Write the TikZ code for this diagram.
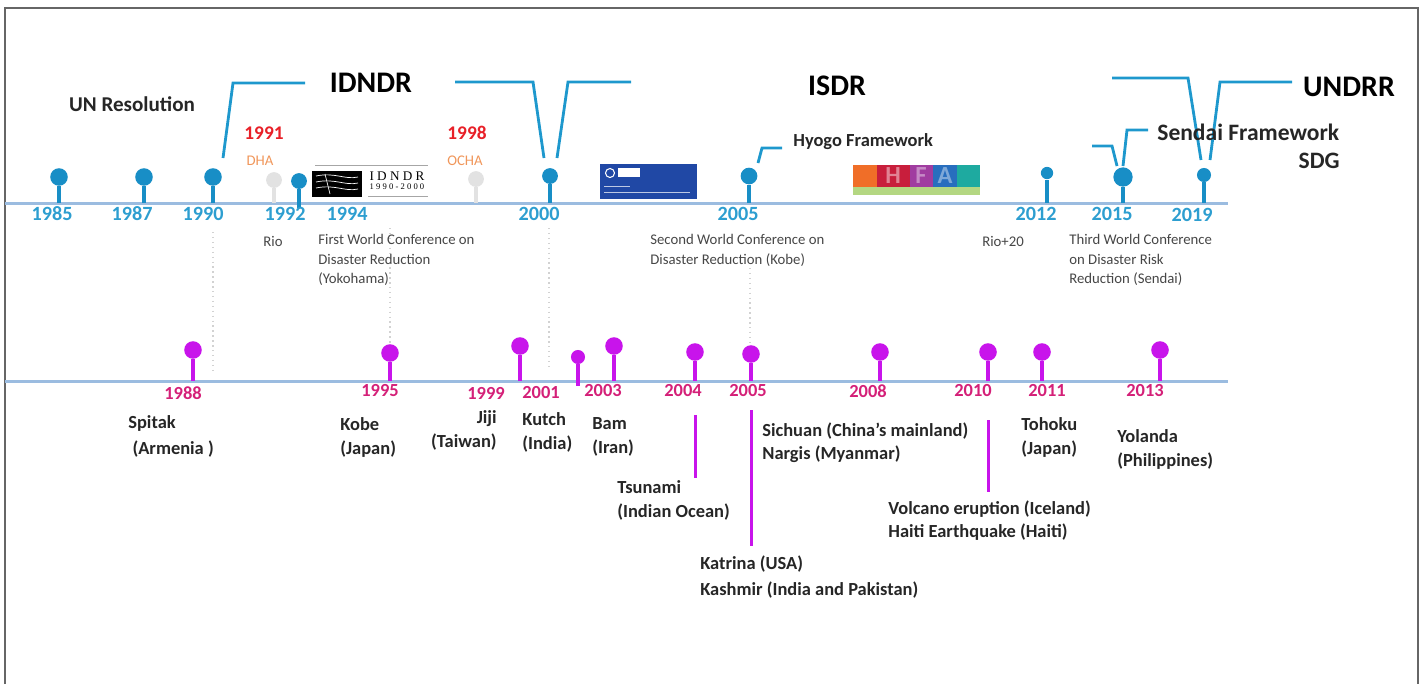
\documentclass[tikz,border=0pt]{standalone}
\usepackage{fontspec}
\setmainfont{Carlito}
\newfontfamily\logofont{Liberation Serif}
\usetikzlibrary{positioning}
\definecolor{pinblue}{RGB}{24,142,198}
\definecolor{yrblue}{RGB}{45,158,208}
\definecolor{axisblue}{RGB}{155,188,224}
\definecolor{brblue}{RGB}{30,152,205}
\definecolor{pinmag}{RGB}{200,20,235}
\definecolor{yrmag}{RGB}{212,32,120}
\definecolor{yrred}{RGB}{232,32,40}
\definecolor{orgtxt}{RGB}{240,150,90}
\definecolor{pingrey}{RGB}{226,226,226}
\definecolor{txtgrey}{RGB}{70,70,70}
\definecolor{isdrblue}{RGB}{32,72,165}
\definecolor{hfaorange}{RGB}{240,110,40}
\definecolor{hfared}{RGB}{200,30,60}
\definecolor{hfapurple}{RGB}{160,60,160}
\definecolor{hfablue}{RGB}{40,110,190}
\definecolor{hfateal}{RGB}{30,170,160}
\definecolor{hfagreen}{RGB}{180,215,130}
\tikzset{
  upin/.style={circle, fill=pinblue, inner sep=0pt, minimum size=10pt},
  lpin/.style={circle, fill=pinmag, inner sep=0pt, minimum size=10pt},
  gpin/.style={circle, fill=pingrey, inner sep=0pt, minimum size=9pt},
  ustem/.style={pinblue, line width=2.2pt},
  lstem/.style={pinmag, line width=2.2pt},
  gstem/.style={pingrey, line width=2pt},
  axisline/.style={axisblue, line width=1.7pt},
  period/.style={brblue, line width=1.6pt},
  uyear/.style={text=yrblue, font=\bfseries\fontsize{11.5}{12}\selectfont, inner sep=0pt},
  lyear/.style={text=yrmag, font=\bfseries\fontsize{10.5}{12}\selectfont, inner sep=0pt},
  era/.style={font=\bfseries\fontsize{17}{20}\selectfont, inner sep=0pt},
  frame/.style={text=black!85, font=\bfseries\fontsize{13.4}{15}\selectfont, inner sep=0pt},
  conf/.style={text=txtgrey, font=\fontsize{8.4}{11.1}\selectfont, inner sep=0pt, align=left, anchor=north west},
  evt/.style={text=black!85, font=\bfseries\fontsize{10.5}{13.6}\selectfont, inner sep=0pt, align=left, anchor=north west},
  guide/.style={gray!35, line width=0.8pt, dotted},
  mline/.style={pinmag, line width=1.7pt},
}

\begin{document}
\begin{tikzpicture}[x=0.02cm, y=-0.02cm]
\useasboundingbox (0,0) rectangle (1425,684);
% frame
\draw[gray!80!black, line width=1.1pt] (5,684) -- (5,8) -- (1418,8) -- (1418,684);

% guides
\draw[guide] (213,232) -- (213,370);
\draw[guide] (390,228) -- (390,345);
\draw[guide] (549,228) -- (549,370);
\draw[guide] (750,268) -- (750,345);

% axes
\draw[axisline] (5,203) -- (1228,203);
\draw[axisline] (5,381) -- (1228,381);

% periods
\draw[period] (223,158) -- (233,83) -- (305,83);
\draw[period] (455,82) -- (533,82) -- (544,158);
\draw[period] (557,158) -- (568,82) -- (631,82);
\draw[period] (758,163) -- (762,148) -- (782,148);
\draw[period] (1092,146) -- (1112,146) -- (1117,166);
\draw[period] (1123,166) -- (1127,130) -- (1148,130);
\draw[period] (1112,78) -- (1188,78) -- (1201,160);
\draw[period] (1210,160) -- (1220,82) -- (1292,82);

% logos
\fill[black] (312,171) rectangle (362,197);
\draw[white, line width=0.4pt] (316,176) .. controls (335,172) and (345,180) .. (358,177);
\draw[white, line width=0.4pt] (316,182) .. controls (335,178) and (345,186) .. (358,183);
\draw[white, line width=0.4pt] (316,188) .. controls (335,184) and (345,192) .. (358,189);
\draw[white, line width=0.4pt] (325,174) -- (330,194);
\draw[gray!70, line width=0.5pt] (315,165) -- (428,165);
\draw[gray!70, line width=0.5pt] (368,196) -- (428,196);
\node[inner sep=0pt, font=\logofont\fontsize{7.5}{8}\selectfont] (logoidndr) at (397,176) {I D N D R};
\node[inner sep=0pt, font=\logofont\fontsize{4.9}{5}\selectfont] (logoyears) at (397,187) {1 9 9 0 - 2 0 0 0};

\fill[isdrblue] (600,164) rectangle (697,199);
\draw[white, line width=0.6pt] (610,173) circle (4.5);
\fill[white] (618,168) rectangle (640,177);
\draw[white!70!isdrblue, line width=0.5pt] (604,186) -- (630,186);
\draw[white!70!isdrblue, line width=0.5pt] (604,192) -- (690,192);

\fill[hfaorange] (853,165) rectangle (877,187);
\fill[hfared] (877,165) rectangle (910,187);
\fill[hfapurple] (910,165) rectangle (933,187);
\fill[hfablue] (933,165) rectangle (957,187);
\fill[hfateal] (957,165) rectangle (980,187);
\fill[hfagreen] (853,187) rectangle (980,195);
\node[inner sep=0pt, text=hfared!55!white, font=\bfseries\fontsize{14}{14}\selectfont] (hfah) at (893,176) {H};
\node[inner sep=0pt, text=hfapurple!60!white, font=\bfseries\fontsize{14}{14}\selectfont] (hfaf) at (921,176) {F};
\node[inner sep=0pt, text=hfablue!60!white, font=\bfseries\fontsize{14}{14}\selectfont] (hfaa) at (945,176) {A};

% upper pins
\coordinate (u1985) at (59,203);
\coordinate (u1987) at (144,203);
\coordinate (u1990) at (213,203);
\coordinate (u1991) at (274,203);
\coordinate (u1992) at (299,208);
\coordinate (u1998) at (476,203);
\coordinate (u2000) at (550,203);
\coordinate (u2005) at (749,203);
\coordinate (u2012) at (1047,203);
\coordinate (u2015) at (1123,203);
\coordinate (u2019) at (1204,203);
\node[upin] (p1985) at (59,177) {};
\node[upin] (p1987) at (144,177) {};
\node[upin] (p1990) at (213,177) {};
\node[gpin] (p1991) at (274,180) {};
\node[upin, minimum size=9pt] (p1992) at (299,181) {};
\node[gpin] (p1998) at (476,179) {};
\node[upin, minimum size=9pt] (p2000) at (550,176) {};
\node[upin, minimum size=9.5pt] (p2005) at (749,176) {};
\node[upin, minimum size=7pt] (p2012) at (1047,173) {};
\node[upin, minimum size=11pt] (p2015) at (1123,177) {};
\node[upin, minimum size=8pt] (p2019) at (1204,175) {};
\draw[ustem] (p1985) -- (u1985);
\draw[ustem] (p1987) -- (u1987);
\draw[ustem] (p1990) -- (u1990);
\draw[gstem] (p1991) -- (u1991);
\draw[ustem] (p1992) -- (u1992);
\draw[gstem] (p1998) -- (u1998);
\draw[ustem] (p2000) -- (u2000);
\draw[ustem] (p2005) -- (u2005);
\draw[ustem] (p2012) -- (u2012);
\draw[ustem] (p2015) -- (u2015);
\draw[ustem] (p2019) -- (u2019);

% upper years
\node[uyear] (y1985) at (52,214) {1985};
\node[uyear] (y1987) at (132,214) {1987};
\node[uyear] (y1990) at (203,214) {1990};
\node[uyear] (y1992) at (285,214) {1992};
\node[uyear] (y1994) at (347,214) {1994};
\node[uyear] (y2000) at (539,214) {2000};
\node[uyear] (y2005) at (738,214) {2005};
\node[uyear] (y2012) at (1036,214) {2012};
\node[uyear] (y2015) at (1112,214) {2015};
\node[uyear] (y2019) at (1192,215) {2019};

% upper labels
\node[era] (idndr) at (371,83) {IDNDR};
\node[era] (isdr) at (837,86) {ISDR};
\node[era] (undrr) at (1349,87) {UNDRR};
\node[text=black!85, font=\bfseries\fontsize{12}{14}\selectfont, inner sep=0pt] (unres) at (132,104) {UN Resolution};
\node[text=yrred, font=\bfseries\fontsize{11}{12}\selectfont, inner sep=0pt] (r1991) at (264,133) {1991};
\node[text=orgtxt, font=\fontsize{8.4}{9}\selectfont, inner sep=0pt] (dha) at (260,161) {DHA};
\node[text=yrred, font=\bfseries\fontsize{11}{12}\selectfont, inner sep=0pt] (r1998) at (467,133) {1998};
\node[text=orgtxt, font=\fontsize{8.4}{9}\selectfont, inner sep=0pt] (ocha) at (465,161) {OCHA};
\node[text=black!85, font=\bfseries\fontsize{10.5}{12}\selectfont, inner sep=0pt, anchor=west] (hyogo) at (793,142) {Hyogo Framework};
\node[frame, anchor=west] (sendai) at (1157,132) {Sendai Framework};
\node[frame, anchor=east] (sdg) at (1340,161) {SDG};

\node[conf, anchor=center] (rio) at (273,241) {Rio};
\node[conf] (wcdr1) at (318,234) {First World Conference on\\Disaster Reduction\\(Yokohama)};
\node[conf] (wcdr2) at (650,234) {Second World Conference on\\Disaster Reduction (Kobe)};
\node[conf, anchor=center] (rio20) at (1003,241) {Rio+20};
\node[conf] (wcdr3) at (1069,234) {Third World Conference\\on Disaster Risk\\Reduction (Sendai)};

% lower pins
\coordinate (l1988) at (193,381);
\coordinate (l1995) at (390,381);
\coordinate (l1999) at (520,381);
\coordinate (l2001) at (578,386);
\coordinate (l2003) at (614,381);
\coordinate (l2004) at (695,381);
\coordinate (l2005) at (751,381);
\coordinate (l2008) at (880,381);
\coordinate (l2010) at (988,381);
\coordinate (l2011) at (1042,381);
\coordinate (l2013) at (1160,381);
\node[lpin] (q1988) at (193,350) {};
\node[lpin] (q1995) at (390,353) {};
\node[lpin] (q1999) at (520,346) {};
\node[lpin, minimum size=8pt] (q2001) at (578,357) {};
\node[lpin] (q2003) at (614,346) {};
\node[lpin] (q2004) at (695,352) {};
\node[lpin] (q2005) at (751,354) {};
\node[lpin] (q2008) at (880,352) {};
\node[lpin] (q2010) at (988,352) {};
\node[lpin] (q2011) at (1042,352) {};
\node[lpin] (q2013) at (1160,350) {};
\draw[lstem] (q1988) -- (l1988);
\draw[lstem] (q1995) -- (l1995);
\draw[lstem] (q1999) -- (l1999);
\draw[lstem] (q2001) -- (l2001);
\draw[lstem] (q2003) -- (l2003);
\draw[lstem] (q2004) -- (l2004);
\draw[lstem] (q2005) -- (l2005);
\draw[lstem] (q2008) -- (l2008);
\draw[lstem] (q2010) -- (l2010);
\draw[lstem] (q2011) -- (l2011);
\draw[lstem] (q2013) -- (l2013);

% lower years
\node[lyear] (z1988) at (183,393) {1988};
\node[lyear] (z1995) at (380,391) {1995};
\node[lyear] (z1999) at (486,393) {1999};
\node[lyear] (z2001) at (541,393) {2001};
\node[lyear] (z2003) at (603,391) {2003};
\node[lyear] (z2004) at (683,391) {2004};
\node[lyear] (z2005) at (748,391) {2005};
\node[lyear] (z2008) at (868,391) {2008};
\node[lyear] (z2010) at (973,391) {2010};
\node[lyear] (z2011) at (1047,391) {2011};
\node[lyear] (z2013) at (1145,391) {2013};

% marker lines
\coordinate (m2004a) at (695,415);
\coordinate (m2004b) at (695,478);
\coordinate (m2005a) at (751,410);
\coordinate (m2005b) at (751,546);
\coordinate (m2010a) at (988,420);
\coordinate (m2010b) at (988,492);
\draw[mline] (m2004a) -- (m2004b);
\draw[mline] (m2005a) -- (m2005b);
\draw[mline] (m2010a) -- (m2010b);

% events
\node[evt] (spitak) at (128,415) {Spitak\\[1.5pt]\ (Armenia )};
\node[evt] (kobe) at (340,417) {Kobe\\(Japan)};
\node[evt, align=right, anchor=north east] (jiji) at (497,410) {Jiji\\(Taiwan)};
\node[evt] (kutch) at (522,412) {Kutch\\(India)};
\node[evt] (bam) at (592,417) {Bam\\(Iran)};
\node[evt] (tsunami) at (617,480) {Tsunami\\(Indian Ocean)};
\node[evt] (katrina) at (700,555) {Katrina (USA)\\[1.5pt]Kashmir (India and Pakistan)};
\node[evt] (sichuan) at (762,422) {Sichuan (China’s mainland)\\Nargis (Myanmar)};
\node[evt] (volcano) at (888,500) {Volcano eruption (Iceland)\\Haiti Earthquake (Haiti)};
\node[evt] (tohoku) at (1021,417) {Tohoku\\(Japan)};
\node[evt] (yolanda) at (1117,429) {Yolanda\\(Philippines)};
\end{tikzpicture}
\end{document}
